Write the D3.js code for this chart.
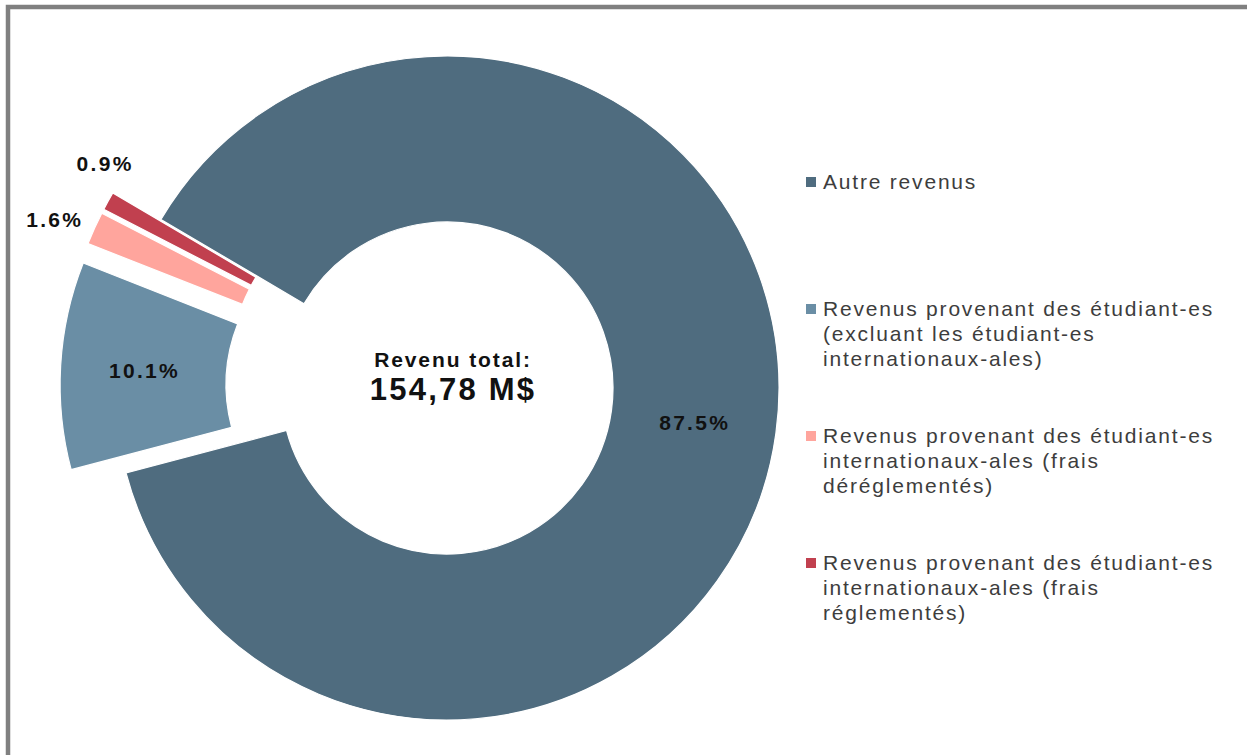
<!DOCTYPE html>
<html>
<head>
<meta charset="utf-8">
<script src="https://cdn.jsdelivr.net/npm/d3@7"></script>
<style>
  html, body { margin: 0; padding: 0; background: #fff; overflow: hidden; }
  svg { display: block; }
</style>
</head>
<body>
<svg id="chart" width="1247" height="755"></svg>
<script>
// ---- Data ----
const categories = [
  "Autre revenus",
  "Revenus provenant des étudiant-es (excluant les étudiant-es internationaux-ales)",
  "Revenus provenant des étudiant-es internationaux-ales (frais déréglementés)",
  "Revenus provenant des étudiant-es internationaux-ales (frais réglementés)"
];
const values = [87.5, 10.1, 1.6, 0.9];
const colors = ["#4f6c7f", "#6a8ea5", "#ffa59d", "#c1404f"];
const legendLines = [
  ["Autre revenus"],
  ["Revenus provenant des étudiant-es", "(excluant les étudiant-es", "internationaux-ales)"],
  ["Revenus provenant des étudiant-es", "internationaux-ales (frais", "déréglementés)"],
  ["Revenus provenant des étudiant-es", "internationaux-ales (frais", "réglementés)"]
];
const centerTitle = "Revenu total:";
const centerValue = "154,78 M$";

// ---- Layout ----
const svg = d3.select("#chart");
const cx = 447, cy = 388;
const rOuter = 332, rInner = 166;
const explode = [0, 55, 55, 55];
const rad = d => d * Math.PI / 180;
const FONT = "Liberation Sans, Arial, Helvetica, sans-serif";

// frame (top and left edges visible; right/bottom run off the page)
svg.append("path")
  .attr("d", "M8,760 V7 H1260")
  .attr("fill", "none")
  .attr("stroke", "#808080")
  .attr("stroke-width", 4.5);

const pie = d3.pie().sort(null).value(d => d)
  .startAngle(rad(-59.5)).endAngle(rad(300.5));
const arcs = pie(values);
const arc = d3.arc().innerRadius(rInner).outerRadius(rOuter);

const g = svg.append("g").attr("transform", `translate(${cx},${cy})`);

function offset(d, i) {
  const mid = (d.startAngle + d.endAngle) / 2;
  return [Math.sin(mid) * explode[i], -Math.cos(mid) * explode[i]];
}

g.selectAll("path.slice")
  .data(arcs)
  .join("path")
  .attr("class", "slice")
  .attr("d", arc)
  .attr("fill", (d, i) => colors[i])
  .attr("stroke", "#fff")
  .attr("stroke-width", 1.2)
  .attr("transform", (d, i) => {
    const [ox, oy] = offset(d, i);
    return `translate(${ox},${oy})`;
  });

// labels
const fmt = v => d3.format(".1f")(v) + "%";
const outsideLabel = [null, null, { r: 373, shift: -1.3 }, { r: 355, shift: 5 }];
g.selectAll("text.lbl")
  .data(arcs)
  .join("text")
  .attr("class", "lbl")
  .attr("transform", (d, i) => {
    const [ox, oy] = offset(d, i);
    let p;
    if (outsideLabel[i]) {
      const o = outsideLabel[i];
      const a = (d.startAngle + d.endAngle) / 2 + rad(o.shift);
      p = [Math.sin(a) * o.r, -Math.cos(a) * o.r];
    } else {
      p = arc.centroid(d);
    }
    return `translate(${p[0] + ox + 1},${p[1] + oy})`;
  })
  .attr("text-anchor", "middle")
  .attr("dy", "0.36em")
  .attr("font-family", FONT)
  .attr("font-weight", "bold")
  .attr("font-size", 21)
  .attr("letter-spacing", 2.3)
  .attr("fill", "#111")
  .text(d => fmt(d.data));

// center text
g.append("text")
  .attr("x", 6).attr("y", -21)
  .attr("text-anchor", "middle")
  .attr("font-family", FONT)
  .attr("font-weight", "bold")
  .attr("font-size", 21)
  .attr("letter-spacing", 1.9)
  .attr("fill", "#111")
  .text(centerTitle);
g.append("text")
  .attr("x", 6).attr("y", 12)
  .attr("text-anchor", "middle")
  .attr("font-family", FONT)
  .attr("font-weight", "bold")
  .attr("font-size", 31)
  .attr("letter-spacing", 2.2)
  .attr("fill", "#111")
  .text(centerValue);

// legend
const legend = svg.append("g").attr("transform", "translate(806,189)");
const items = legend.selectAll("g.item")
  .data(categories)
  .join("g")
  .attr("class", "item")
  .attr("transform", (d, i) => `translate(0,${i * 127})`);
items.append("rect")
  .attr("x", 0).attr("y", -12)
  .attr("width", 10).attr("height", 10)
  .attr("fill", (d, i) => colors[i]);
items.append("text")
  .attr("x", 17)
  .attr("font-family", FONT)
  .attr("font-size", 21)
  .attr("letter-spacing", 1.8)
  .attr("fill", "#3d3d3d")
  .selectAll("tspan")
  .data((d, i) => legendLines[i])
  .join("tspan")
  .attr("x", 17)
  .attr("dy", (d, j) => j === 0 ? 0 : 25)
  .text(d => d);
</script>
</body>
</html>
